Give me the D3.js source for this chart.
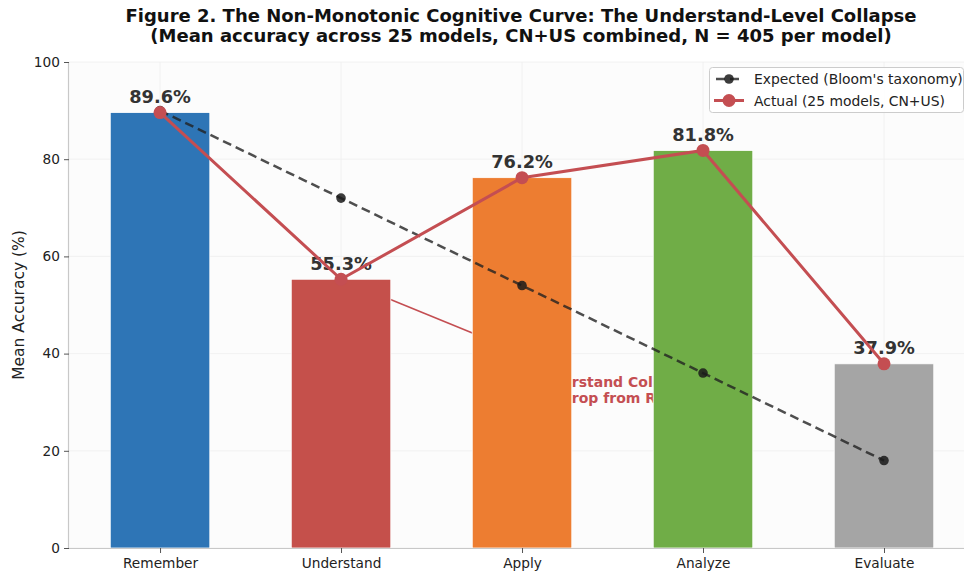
<!DOCTYPE html>
<html><head><meta charset="utf-8">
<script src="https://cdn.jsdelivr.net/npm/d3@7"></script>
<style>body{margin:0;background:#fff}svg{display:block;font-family:"DejaVu Sans",sans-serif}</style>
</head><body>
<svg id="c" width="964" height="576"></svg>
<script>
const categories = ["Remember","Understand","Apply","Analyze","Evaluate"];
const actual = [89.6, 55.3, 76.2, 81.8, 37.9];
const expected = [90, 72, 54, 36, 18];
const barColors = ["#2e75b6","#c5504b","#ed7d31","#70ad47","#a5a5a5"];
const yTicks = [0,20,40,60,80,100];
const titleLines = ["Figure 2. The Non-Monotonic Cognitive Curve: The Understand-Level Collapse",
  "(Mean accuracy across 25 models, CN+US combined, N = 405 per model)"];
const annotLines = ["Understand Collapse","−34.3 pp drop from Remember"];
const annotPrefix = ["Unde","−34.3 pp d"];
const legendLabels = ["Expected (Bloom's taxonomy)","Actual (25 models, CN+US)"];

const svg = d3.select("#c");
const L=69, R=964, T=62, B=548;
const x = d3.scaleLinear().domain([-0.503, 4.442]).range([L, R]);
const y = d3.scaleLinear().domain([0,100]).range([B, T]);
const bw = x(0.55)-x(0);

svg.append("rect").attr("x",L).attr("y",T).attr("width",R-L).attr("height",B-T).attr("fill","#fcfcfc");
// grid
svg.append("g").selectAll("line").data(yTicks).join("line")
  .attr("x1",L).attr("x2",R).attr("y1",d=>y(d)).attr("y2",d=>y(d)).attr("stroke","#efefef").attr("stroke-width",0.8);
svg.append("g").selectAll("line").data(categories).join("line")
  .attr("x1",(d,i)=>x(i)).attr("x2",(d,i)=>x(i)).attr("y1",T).attr("y2",B).attr("stroke","#efefef").attr("stroke-width",0.8);

// annotation (behind bars)
const red="#c44e52";
svg.append("line").attr("x1",x(1)).attr("y1",y(55.3)).attr("x2",x(2.2)).attr("y2",y(37))
  .attr("stroke",red).attr("stroke-width",1.5);
const annotBase=[387,403];
annotLines.forEach((t,i)=>{
  const tx = svg.append("text").attr("y",annotBase[i]).attr("x",0).attr("fill",red)
    .attr("font-size",14).attr("font-weight","bold").text(t);
  const pw = tx.node().getSubStringLength(0, annotPrefix[i].length);
  tx.attr("x", x(2)+bw/2 - pw);
});

// bars
svg.append("g").selectAll("rect").data(actual).join("rect")
  .attr("x",(d,i)=>x(i)-bw/2).attr("width",bw).attr("y",d=>y(d)).attr("height",d=>B-y(d))
  .attr("fill",(d,i)=>barColors[i]).attr("stroke","#fff").attr("stroke-width",0.8);

// value labels
svg.append("g").selectAll("text").data(actual).join("text")
  .attr("x",(d,i)=>x(i)).attr("y",d=>y(d+2)).attr("text-anchor","middle")
  .attr("font-size",17.8).attr("font-weight","bold").attr("fill","#333").text(d=>d.toFixed(1)+"%");

// expected line
const line = d3.line().x((d,i)=>x(i)).y(d=>y(d));
svg.append("path").datum(expected).attr("d",line).attr("fill","none").attr("stroke","#222")
  .attr("stroke-opacity",0.8).attr("stroke-width",2.5).attr("stroke-dasharray","9,5");
svg.append("g").selectAll("circle").data(expected).join("circle")
  .attr("cx",(d,i)=>x(i)).attr("cy",d=>y(d)).attr("r",4.8).attr("fill","#1a1a1a").attr("fill-opacity",0.85);
// actual line
svg.append("path").datum(actual).attr("d",line).attr("fill","none").attr("stroke",red).attr("stroke-width",3);
svg.append("g").selectAll("circle").data(actual).join("circle")
  .attr("cx",(d,i)=>x(i)).attr("cy",d=>y(d)).attr("r",6.5).attr("fill",red);

// axes
const gy = svg.append("g").attr("transform",`translate(${L},0)`)
  .call(d3.axisLeft(y).tickValues(yTicks).tickSize(5).tickPadding(4));
const gx = svg.append("g").attr("transform",`translate(0,${B})`)
  .call(d3.axisBottom(x).tickValues(d3.range(categories.length)).tickFormat(i=>categories[i]).tickSize(5).tickPadding(5));
[gx,gy].forEach(g=>{
  g.select(".domain").attr("stroke","#c8c8c8").attr("stroke-width",1.2);
  g.selectAll(".tick line").attr("stroke","#555");
  g.selectAll(".tick text").attr("font-size",13.7).attr("fill","#222").attr("font-family","DejaVu Sans");
});
gx.select(".domain").attr("d",`M${L},0.5H${R}`);
gy.select(".domain").attr("d",`M-0.5,${B}V${T}`);

svg.append("text").attr("transform",`translate(24,${(T+B)/2}) rotate(-90)`).attr("text-anchor","middle")
  .attr("font-size",15.5).attr("fill","#222").text("Mean Accuracy (%)");

// title
titleLines.forEach((t,i)=>{
  svg.append("text").attr("x",521).attr("y",22+i*20).attr("text-anchor","middle")
    .attr("font-size",18).attr("font-weight","bold").attr("fill","#111").text(t);
});

// legend
const lg = svg.append("g");
lg.append("rect").attr("x",709.5).attr("y",67.5).attr("width",254).attr("height",45).attr("rx",3)
  .attr("fill","#fff").attr("fill-opacity",0.9).attr("stroke","#ccc");
[0,1].forEach(i=>{
  const yy = 79+i*21.5;
  if(i===0){
    lg.append("line").attr("x1",716).attr("x2",740).attr("y1",yy).attr("y2",yy).attr("stroke","#222")
      .attr("stroke-opacity",0.8).attr("stroke-width",2.5).attr("stroke-dasharray","9,5");
    lg.append("circle").attr("cx",729).attr("cy",yy).attr("r",4.8).attr("fill","#1a1a1a").attr("fill-opacity",0.85);
  } else {
    lg.append("line").attr("x1",714).attr("x2",744).attr("y1",yy).attr("y2",yy).attr("stroke",red).attr("stroke-width",3);
    lg.append("circle").attr("cx",729).attr("cy",yy).attr("r",6.5).attr("fill",red);
  }
  lg.append("text").attr("x",754).attr("y",yy+5).attr("font-size",13.9).attr("fill","#222").text(legendLabels[i]);
});
</script>
</body></html>
